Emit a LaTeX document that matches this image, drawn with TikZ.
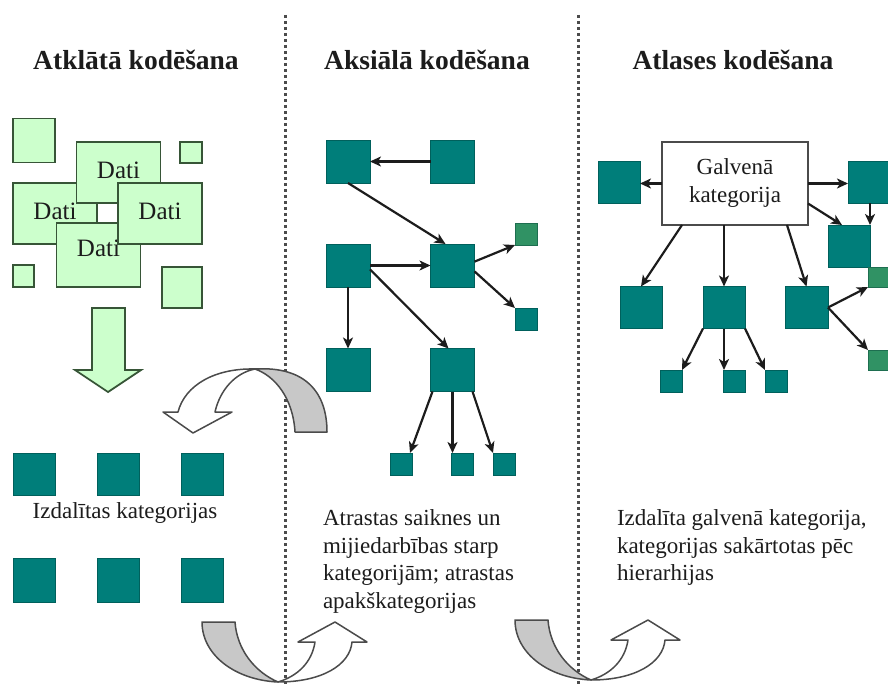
\documentclass[tikz,border=0pt]{standalone}
\usepackage{fontspec}
\setmainfont{Liberation Serif}
\usetikzlibrary{arrows.meta}
\definecolor{tealc}{RGB}{0,126,122}
\definecolor{tealdark}{RGB}{0,96,92}
\definecolor{seag}{RGB}{48,146,100}
\definecolor{seagdark}{RGB}{30,110,80}
\definecolor{palefill}{RGB}{204,255,204}
\definecolor{paledraw}{RGB}{55,85,55}
\definecolor{inkc}{RGB}{28,28,28}
\definecolor{bandgrey}{RGB}{200,200,200}
\definecolor{bandline}{RGB}{75,75,75}
\begin{document}
\begin{tikzpicture}[x=1pt,y=-1pt,
  every node/.style={inner sep=0pt, outer sep=0pt, text=inkc},
  tealbox/.style={draw=tealdark, fill=tealc, line width=0.6pt},
  seabox/.style={draw=seagdark, fill=seag, line width=0.6pt},
  bigsq/.style={minimum width=44pt, minimum height=43pt},
  smallsq/.style={minimum size=22pt},
  paleb/.style={draw=paledraw, fill=palefill, line width=1.8pt},
  datibox/.style={paleb, minimum width=84pt, minimum height=61pt, font=\fontsize{25}{30}\selectfont},
  arr/.style={draw=inkc, line width=2.2pt, -{Stealth[length=11pt,width=10pt,inset=3pt]}},
  sep/.style={draw=bandline, line width=3pt, dash pattern=on 3pt off 3pt},
  title/.style={font=\fontsize{27.5}{32}\selectfont\bfseries, anchor=base},
  body/.style={font=\fontsize{23}{27.5}\selectfont, align=left, anchor=north west},
  bandback/.style={fill=bandgrey, draw=bandline, line width=1.5pt, line join=round},
  bandfront/.style={fill=white, draw=bandline, line width=1.5pt, line join=round}
]
\useasboundingbox (0,0) rectangle (888,684);
\clip (0,0) rectangle (888,684);
\fill[white] (0,0) rectangle (888,684);

% column separators
\coordinate (s1top) at (285,15);  \coordinate (s1bot) at (285,684);
\coordinate (s2top) at (578,15);  \coordinate (s2bot) at (578,684);
\draw[sep] (s1top) -- (s1bot);
\draw[sep] (s2top) -- (s2bot);

% titles
\node[title] (t1) at (136,70) {Atklātā kodēšana};
\node[title] (t2) at (427,70) {Aksiālā kodēšana};
\node[title] (t3) at (733,70) {Atlases kodēšana};

% ---------- open coding: raw data ----------
\node[paleb, minimum width=42pt, minimum height=44pt] (l1) at (34,140.5) {};
\node[paleb, minimum width=22pt, minimum height=21pt] (l2) at (191,152.5) {};
\node[paleb, minimum width=21pt, minimum height=22pt] (l3) at (23.5,276) {};
\node[paleb, minimum width=40pt, minimum height=41pt] (l4) at (182,287.5) {};
\node[datibox, text depth=5pt] (dl) at (55,213.5) {Dati};
\node[datibox, text depth=5pt] (dt) at (118.5,172.5) {Dati};
\node[datibox, minimum height=64pt, text depth=14pt] (db) at (98.5,255) {Dati};
\node[datibox, text depth=5pt] (dr) at (160,213.5) {Dati};

% big downward arrow
\draw[paleb, line join=miter] (92,308) -- (125,308) -- (125,370) -- (141,370)
  -- (108,392) -- (75,370) -- (92,370) -- cycle;

% resulting categories
\foreach \n/\x in {a/34, b/118.5, c/202.5} {
  \node[tealbox, minimum width=42pt, minimum height=42pt] (k1\n) at (\x,474) {};
  \node[tealbox, minimum width=42pt, minimum height=44pt] (k2\n) at (\x,580) {};
}
\node[font=\fontsize{23}{27.5}\selectfont, anchor=base] (kt) at (125,518) {Izdalītas kategorijas};

% ---------- axial coding ----------
\node[tealbox, bigsq] (m1) at (348,161.5) {};
\node[tealbox, bigsq] (m2) at (452.5,161.5) {};
\node[tealbox, bigsq] (m3) at (348,265.5) {};
\node[tealbox, bigsq] (m4) at (452.5,265.5) {};
\node[seabox, smallsq] (m5) at (526,234) {};
\node[tealbox, smallsq] (m6) at (526,319) {};
\node[tealbox, bigsq] (m7) at (348,370) {};
\node[tealbox, bigsq] (m8) at (452.5,370) {};
\node[tealbox, smallsq] (m9) at (401,464) {};
\node[tealbox, smallsq] (m10) at (462.5,464) {};
\node[tealbox, smallsq] (m11) at (504,464) {};

\draw[arr] (m2.west) -- (m1.east);
\draw[arr] (m1.south) -- ([xshift=-7pt]m4.north);
\draw[arr] (m3.east) -- (m4.west);
\draw[arr] (m3.south) -- (m7.north);
\draw[arr] (m3.-10) -- ([xshift=-4pt]m8.north);
\draw[arr] (m4.10) -- (m5.south west);
\draw[arr] (m4.-15) -- (m6.north west);
\draw[arr] ([xshift=2pt]m8.south west) -- ([xshift=-2pt]m9.north east);
\draw[arr] (m8.south) -- (m8.south |- m10.north);
\draw[arr] ([xshift=-2pt]m8.south east) -- (m11.north west);

\node[body] (mt) at (323,510) {Atrastas saiknes un\\mijiedarbības starp\\kategorijām; atrastas\\apakškategorijas};

% ---------- selective coding ----------
\node[draw=bandline, fill=white, line width=1.6pt, minimum width=146pt, minimum height=83pt,
      align=center, font=\fontsize{23}{28}\selectfont] (g) at (735,183.5) {Galvenā\\kategorija};
\node[tealbox, minimum width=42pt, minimum height=42pt] (r1) at (619,182.5) {};
\node[tealbox, minimum width=44pt, minimum height=42pt] (r2) at (870,182.5) {};
\node[tealbox, minimum width=42pt, minimum height=42pt] (r3) at (849,246) {};
\node[seabox, minimum width=22pt, minimum height=20pt] (r4) at (879,277) {};
\node[tealbox, minimum width=43pt, minimum height=42pt] (r5) at (806.5,307.5) {};
\node[seabox, minimum width=22pt, minimum height=20pt] (r6) at (879,360) {};
\node[tealbox, minimum width=42pt, minimum height=42pt] (r7) at (641,307.5) {};
\node[tealbox, minimum width=42pt, minimum height=42pt] (r8) at (724,307.5) {};
\node[tealbox, smallsq] (r9) at (671,381) {};
\node[tealbox, smallsq] (r10) at (734,381) {};
\node[tealbox, smallsq] (r11) at (776,381) {};

\draw[arr] (g.west) -- (g.west -| r1.east);
\draw[arr] (g.east) -- (g.east -| r2.west);
\draw[arr] ([yshift=-20pt]g.east) -- ([xshift=-7pt]r3.north);
\draw[arr] (r2.south) -- (r3.north east);
\draw[arr] ([xshift=-53pt]g.south) -- (r7.north);
\draw[arr] (r8.north |- g.south) -- (r8.north);
\draw[arr] ([xshift=52pt]g.south) -- (r5.north);
\draw[arr] (r5.east) -- (r4.south west);
\draw[arr] (r5.east) -- (r6.north west);
\draw[arr] (r8.south west) -- (r9.north east);
\draw[arr] (r8.south) -- (r8.south |- r10.north);
\draw[arr] (r8.south east) -- (r11.north west);

\node[body] (rt) at (617,510) {Izdalīta galvenā kategorija,\\kategorijas sakārtotas pēc\\hierarhijas};

% ---------- curved transition arrows ----------
% from axial coding back to the categories
\draw[bandback] (255,369) .. controls (305,366) and (327,392) .. (327,432)
  -- (295,432) .. controls (293,398) and (275,376) .. (255,369) -- cycle;
\draw[bandfront] (255,369) .. controls (215,368) and (185,385) .. (178,412)
  -- (163,412) -- (193,433) -- (232,412) -- (215,412)
  .. controls (220,390) and (235,373) .. (255,369) -- cycle;

% lower U-turn arrows between the columns
\foreach \dx/\dy in {0/0, 313/-2} {
  \begin{scope}[shift={(\dx,\dy)}]
    \draw[bandback] (202,622) -- (235,622) .. controls (237,650) and (255,672) .. (278,682)
      .. controls (235,680) and (202,655) .. (202,622) -- cycle;
    \draw[bandfront] (278,682) .. controls (322,682) and (350,665) .. (352,642)
      -- (367,642) -- (335,622) -- (298,642) -- (315,642)
      .. controls (312,662) and (298,676) .. (278,682) -- cycle;
  \end{scope}
}
\end{tikzpicture}
\end{document}
